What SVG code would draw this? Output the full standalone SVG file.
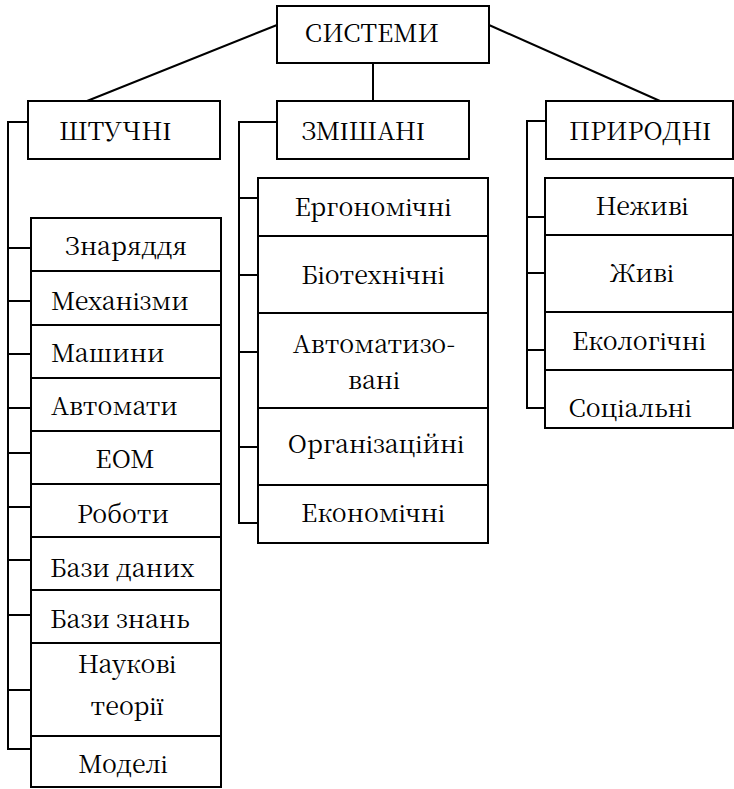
<svg xmlns="http://www.w3.org/2000/svg" width="734" height="789" viewBox="0 0 734 789">
  <style>
    .box { fill: #fff; stroke: #000; stroke-width: 2; }
    .ln { fill: none; stroke: #000; stroke-width: 2; }
    text { font-family: 'Noto Serif CJK SC', 'Liberation Serif', serif; font-size: 25px; fill: #000; }
    .c { text-anchor: middle; }
  </style>
  <rect width="734" height="789" fill="#fff"/>

  <!-- connectors -->
  <g id="connectors">
    <line class="ln" x1="277" y1="25" x2="87" y2="101"/>
    <line class="ln" x1="489" y1="25" x2="660" y2="101"/>
    <line class="ln" x1="373" y1="63" x2="373" y2="101"/>
    <!-- left bracket -->
    <polyline class="ln" points="28,122 8,122 8,749 31,749"/>
    <path class="ln" d="M8,248H31M8,301H31M8,354H31M8,408H31M8,453H31M8,507H31M8,560H31M8,615H31M8,690H31"/>
    <!-- middle bracket -->
    <polyline class="ln" points="277,122 239,122 239,523 258,523"/>
    <path class="ln" d="M239,198H258M239,275H258M239,352H258M239,447H258"/>
    <!-- right bracket -->
    <polyline class="ln" points="546,121 527,121 527,408 545,408"/>
    <path class="ln" d="M527,217H545M527,273H545M527,350H545"/>
  </g>

  <g id="systems">
    <rect class="box" x="277" y="6" width="212" height="57"/>
    <text class="c" x="372" y="42">СИСТЕМИ</text>
  </g>
  <g id="artificial">
    <rect class="box" x="28" y="101" width="192" height="58"/>
    <text class="c" x="115" y="140">ШТУЧНІ</text>
  </g>
  <g id="mixed">
    <rect class="box" x="277" y="101" width="192" height="58"/>
    <text class="c" x="363" y="140">ЗМІШАНІ</text>
  </g>
  <g id="natural">
    <rect class="box" x="546" y="101" width="187" height="58"/>
    <text class="c" x="640" y="140">ПРИРОДНІ</text>
  </g>

  <!-- artificial systems column -->
  <g id="a1"><rect class="box" x="31" y="218" width="190" height="53"/><text class="c" x="126" y="255">Знаряддя</text></g>
  <g id="a2"><rect class="box" x="31" y="271" width="190" height="54"/><text x="51" y="310">Механізми</text></g>
  <g id="a3"><rect class="box" x="31" y="325" width="190" height="53"/><text x="51" y="362">Машини</text></g>
  <g id="a4"><rect class="box" x="31" y="378" width="190" height="53"/><text x="51" y="415">Автомати</text></g>
  <g id="a5"><rect class="box" x="31" y="431" width="190" height="53"/><text class="c" x="125" y="468">ЕОМ</text></g>
  <g id="a6"><rect class="box" x="31" y="484" width="190" height="53"/><text class="c" x="123" y="523">Роботи</text></g>
  <g id="a7"><rect class="box" x="31" y="537" width="190" height="53"/><text x="50" y="577">Бази даних</text></g>
  <g id="a8"><rect class="box" x="31" y="590" width="190" height="53"/><text x="50" y="628">Бази знань</text></g>
  <g id="a9"><rect class="box" x="31" y="643" width="190" height="93"/><text class="c" x="127" y="673">Наукові</text><text class="c" x="127" y="715">теорії</text></g>
  <g id="a10"><rect class="box" x="31" y="736" width="190" height="51"/><text class="c" x="123" y="773">Моделі</text></g>

  <!-- mixed systems column -->
  <g id="m1"><rect class="box" x="258" y="178" width="230" height="58"/><text class="c" x="373" y="216">Ергономічні</text></g>
  <g id="m2"><rect class="box" x="258" y="236" width="230" height="77"/><text class="c" x="373" y="284">Біотехнічні</text></g>
  <g id="m3"><rect class="box" x="258" y="313" width="230" height="95"/><text class="c" x="374" y="353">Автоматизо-</text><text class="c" x="374" y="389">вані</text></g>
  <g id="m4"><rect class="box" x="258" y="408" width="230" height="77"/><text class="c" x="376" y="453">Організаційні</text></g>
  <g id="m5"><rect class="box" x="258" y="485" width="230" height="58"/><text class="c" x="373" y="522">Економічні</text></g>

  <!-- natural systems column -->
  <g id="n1"><rect class="box" x="545" y="178" width="188" height="57"/><text class="c" x="642" y="215">Неживі</text></g>
  <g id="n2"><rect class="box" x="545" y="235" width="188" height="77"/><text class="c" x="642" y="282">Живі</text></g>
  <g id="n3"><rect class="box" x="545" y="312" width="188" height="58"/><text class="c" x="639" y="350">Екологічні</text></g>
  <g id="n4"><rect class="box" x="545" y="370" width="188" height="58"/><text class="c" x="630" y="417">Соціальні</text></g>
</svg>
